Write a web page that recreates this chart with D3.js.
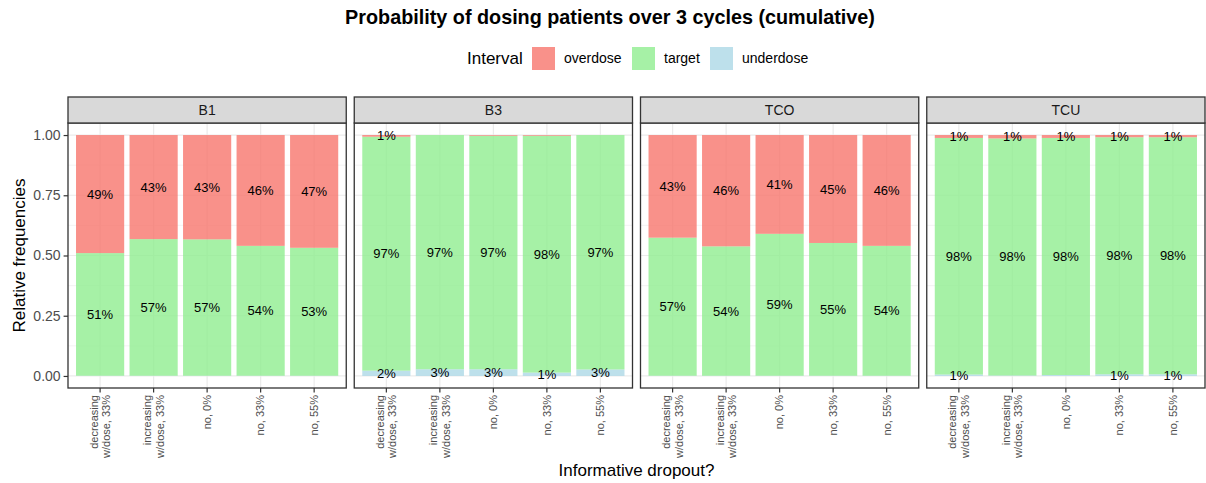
<!DOCTYPE html>
<html>
<head>
<meta charset="utf-8">
<script src="https://cdn.jsdelivr.net/npm/d3@7"></script>
<style>
  body { margin: 0; background: white; }
  text { font-family: "Liberation Sans", Arial, sans-serif; }
</style>
</head>
<body>
<div id="chart"></div>
<script>
// 데이터: 패널, 범주, 구간별 상대빈도
const panels = ["B1", "B3", "TCO", "TCU"];
const dropouts = ["decreasing\nw/dose, 33%", "increasing\nw/dose, 33%", "no, 0%", "no, 33%", "no, 55%"];
const intervals = ["overdose", "target", "underdose"];

// 각 배열: 패널(B1, B3, TCO, TCU) x 범주 5개
const overdose = [
  [0.490, 0.432, 0.433, 0.460, 0.468],
  [0.007, 0.000, 0.003, 0.003, 0.000],
  [0.426, 0.462, 0.410, 0.448, 0.460],
  [0.012, 0.014, 0.012, 0.009, 0.009]
];
const target = [
  [0.509, 0.567, 0.566, 0.539, 0.531],
  [0.971, 0.972, 0.969, 0.983, 0.973],
  [0.573, 0.537, 0.589, 0.551, 0.539],
  [0.982, 0.984, 0.984, 0.984, 0.984]
];
const underdose = [
  [0.001, 0.001, 0.001, 0.001, 0.001],
  [0.022, 0.028, 0.028, 0.014, 0.027],
  [0.001, 0.001, 0.001, 0.001, 0.001],
  [0.006, 0.002, 0.004, 0.007, 0.007]
];
const colors = { overdose: "#F8766D", target: "#90EE90", underdose: "#ADD8E6" };

const W = 1206, H = 483;
const svg = d3.select("#chart").append("svg").attr("width", W).attr("height", H);

// 패널 영역
const left = 68, right = 1205, plotTop = 123, plotBottom = 388, stripTop = 97;
const panelX = d3.scaleBand().domain(panels).range([left, right]).paddingInner(8 / 286.25);
const panelW = panelX.bandwidth();

const x = d3.scaleBand().domain(dropouts).range([0, panelW]).paddingInner(0.1).paddingOuter(0.15);
const y = d3.scaleLinear().domain([-0.05, 1.05]).range([plotBottom, plotTop]);

// 쌓기: underdose 아래, target 가운데, overdose 위
function stackFor(p) {
  return dropouts.map((c, i) => {
    const u = underdose[p][i], t = target[p][i], o = overdose[p][i];
    return [
      { key: "underdose", cat: c, y0: 0, y1: u, v: u },
      { key: "target", cat: c, y0: u, y1: u + t, v: t },
      { key: "overdose", cat: c, y0: u + t, y1: u + t + o, v: o }
    ];
  }).flat();
}

panels.forEach((name, p) => {
  const g = svg.append("g").attr("transform", `translate(${panelX(name)},0)`);

  // 그리드
  const minor = [0.125, 0.375, 0.625, 0.875];
  g.selectAll(".gminor").data(minor).enter().append("line")
    .attr("x1", 0).attr("x2", panelW)
    .attr("y1", d => y(d)).attr("y2", d => y(d))
    .attr("stroke", "#EBEBEB").attr("stroke-width", 0.6);
  g.selectAll(".gmajor").data([0, 0.25, 0.5, 0.75, 1]).enter().append("line")
    .attr("x1", 0).attr("x2", panelW)
    .attr("y1", d => y(d)).attr("y2", d => y(d))
    .attr("stroke", "#EBEBEB").attr("stroke-width", 1.2);
  g.selectAll(".gx").data(dropouts).enter().append("line")
    .attr("x1", d => x(d) + x.bandwidth() / 2).attr("x2", d => x(d) + x.bandwidth() / 2)
    .attr("y1", plotTop).attr("y2", plotBottom)
    .attr("stroke", "#EBEBEB").attr("stroke-width", 1.2);

  const segs = stackFor(p);
  g.selectAll("rect.seg").data(segs.filter(d => d.v > 0)).enter().append("rect")
    .attr("x", d => x(d.cat))
    .attr("width", x.bandwidth())
    .attr("y", d => y(d.y1))
    .attr("height", d => y(d.y0) - y(d.y1))
    .attr("fill", d => colors[d.key])
    .attr("fill-opacity", 0.8);

  // 라벨 (반올림 1% 이상만)
  g.selectAll("text.lab").data(segs.filter(d => Math.round(d.v * 100) >= 1)).enter().append("text")
    .attr("x", d => x(d.cat) + x.bandwidth() / 2)
    .attr("y", d => y((d.y0 + d.y1) / 2))
    .attr("dy", "0.35em")
    .attr("text-anchor", "middle")
    .attr("font-size", "13px")
    .attr("fill", "#000")
    .text(d => Math.round(d.v * 100) + "%");

  // 테두리
  g.append("rect").attr("x", 0).attr("y", plotTop).attr("width", panelW).attr("height", plotBottom - plotTop)
    .attr("fill", "none").attr("stroke", "#333333").attr("stroke-width", 1.3);

  // 스트립
  g.append("rect").attr("x", 0).attr("y", stripTop).attr("width", panelW).attr("height", plotTop - stripTop)
    .attr("fill", "#D9D9D9").attr("stroke", "#333333").attr("stroke-width", 1.3);
  g.append("text").attr("x", panelW / 2).attr("y", (stripTop + plotTop) / 2).attr("dy", "0.35em")
    .attr("text-anchor", "middle").attr("font-size", "14px").attr("fill", "#1A1A1A").text(name);

  // x축
  const xAxis = g.append("g").attr("transform", `translate(0,${plotBottom})`)
    .call(d3.axisBottom(x).tickSize(4.4).tickSizeOuter(0));
  xAxis.select(".domain").remove();
  xAxis.selectAll(".tick line").attr("stroke", "#333333").attr("stroke-width", 1.2);
  xAxis.selectAll(".tick text").each(function(d) {
    const lines = d.split("\n");
    const t = d3.select(this).text(null)
      .attr("transform", "rotate(-90)")
      .attr("x", -7).attr("y", 0).attr("dy", null)
      .attr("text-anchor", "end")
      .attr("font-size", "11px").attr("fill", "#4D4D4D");
    lines.forEach((l, i) => {
      t.append("tspan").attr("x", -7)
        .attr("y", (i - (lines.length - 1) / 2) * 12.5)
        .attr("dy", "0.35em").text(l);
    });
  });

  // y축 (첫 패널만)
  if (p === 0) {
    const yAxis = g.append("g")
      .call(d3.axisLeft(y).tickValues([0, 0.25, 0.5, 0.75, 1]).tickFormat(d3.format(".2f")).tickSize(4.4).tickPadding(3));
    yAxis.select(".domain").remove();
    yAxis.selectAll(".tick line").attr("stroke", "#333333").attr("stroke-width", 1.2);
    yAxis.selectAll(".tick text").attr("font-size", "14px").attr("fill", "#4D4D4D")
      .style("font-family", "Liberation Sans, Arial, sans-serif");
  }
});

// 축 제목
svg.append("text").attr("transform", `translate(19,${(plotTop + plotBottom) / 2}) rotate(-90)`)
  .attr("text-anchor", "middle").attr("dy", "0.35em").attr("font-size", "17px").text("Relative frequencies");
svg.append("text").attr("x", (left + right) / 2).attr("y", 476)
  .attr("text-anchor", "middle").attr("font-size", "17px").text("Informative dropout?");

// 제목
svg.append("text").attr("x", 610).attr("y", 24)
  .attr("text-anchor", "middle").attr("font-size", "19.8px").attr("font-weight", "bold")
  .text("Probability of dosing patients over 3 cycles (cumulative)");

// 범례
const legend = svg.append("g");
legend.append("text").attr("x", 467).attr("y", 58.5).attr("dy", "0.35em")
  .attr("font-size", "17px").text("Interval");
const keyX = [532, 632, 710];
intervals.forEach((k, i) => {
  legend.append("rect").attr("x", keyX[i]).attr("y", 47).attr("width", 23).attr("height", 23)
    .attr("fill", colors[k]).attr("fill-opacity", 0.8);
  legend.append("text").attr("x", keyX[i] + 32).attr("y", 58.5).attr("dy", "0.35em")
    .attr("font-size", "14px").text(k);
});
</script>
</body>
</html>
